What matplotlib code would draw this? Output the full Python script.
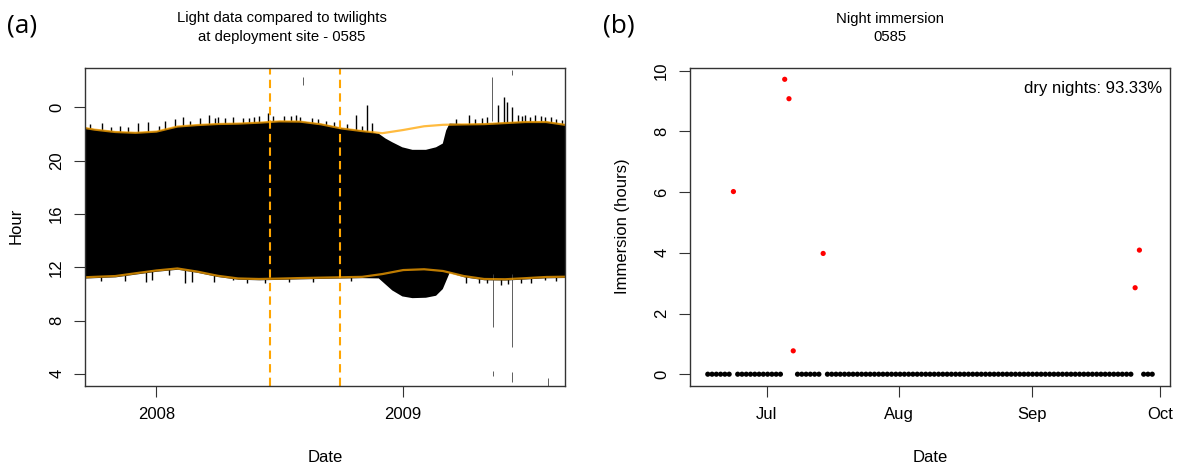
import numpy as np
import pandas as pd
import matplotlib
matplotlib.use('Agg')
import matplotlib.pyplot as plt

plt.rcParams['font.family'] = ['Liberation Sans', 'DejaVu Sans']

# ---- (a) light data vs twilights ----
twl_dates = ['2007-09-17', '2007-10-01', '2007-11-01', '2007-12-01', '2008-01-01',
             '2008-02-01', '2008-03-01', '2008-04-01', '2008-05-01', '2008-06-01',
             '2008-07-01', '2008-08-01', '2008-09-01', '2008-10-01', '2008-11-01',
             '2008-12-01', '2009-01-01', '2009-02-01', '2009-03-01', '2009-04-01',
             '2009-05-01', '2009-06-01', '2009-07-01', '2009-08-01', '2009-08-29']
twl_upper = [22.45, 22.33, 22.15, 22.09, 22.18, 22.56, 22.67, 22.75, 22.78, 22.85,
             22.95, 22.93, 22.73, 22.42, 22.22, 22.06, 22.30, 22.58, 22.69, 22.72,
             22.74, 22.82, 22.90, 22.90, 22.69]
twl_lower = [11.25, 11.28, 11.34, 11.55, 11.76, 11.91, 11.68, 11.36, 11.16, 11.12,
             11.15, 11.19, 11.22, 11.25, 11.28, 11.49, 11.79, 11.85, 11.72, 11.34,
             11.12, 11.10, 11.18, 11.27, 11.29]

# dark period recorded by the logger (edges of the black band)
band_dates = ['2007-09-17', '2007-10-01', '2007-11-01', '2007-12-01', '2008-01-01',
              '2008-02-01', '2008-03-01', '2008-04-01', '2008-05-01', '2008-06-01',
              '2008-07-01', '2008-08-01', '2008-09-01', '2008-10-01', '2008-11-01',
              '2008-11-25', '2008-12-05', '2008-12-15', '2008-12-30', '2009-01-14',
              '2009-02-03', '2009-02-18', '2009-02-28', '2009-03-05', '2009-03-10',
              '2009-04-01', '2009-05-01', '2009-06-01', '2009-07-01', '2009-08-01',
              '2009-08-29']
band_top = [22.52, 22.40, 22.22, 22.16, 22.25, 22.62, 22.74, 22.82, 22.85, 22.92,
            23.02, 23.00, 22.80, 22.49, 22.29, 22.06, 21.70, 21.42, 21.04, 20.85,
            20.85, 21.04, 21.32, 22.30, 22.82, 22.78, 22.82, 22.90, 22.97, 22.97,
            22.76]
band_bottom = [11.19, 11.22, 11.28, 11.49, 11.70, 11.85, 11.62, 11.30, 11.10, 11.06,
               11.09, 11.13, 11.16, 11.19, 11.22, 11.20, 10.75, 10.30, 9.85, 9.72,
               9.75, 9.90, 10.40, 11.00, 11.60, 11.28, 11.06, 11.04, 11.12, 11.21,
               11.23]

top_spike_dates = ['2007-09-25', '2007-10-12', '2007-10-25', '2007-11-08', '2007-11-20',
                   '2007-12-05', '2007-12-20', '2008-01-05', '2008-01-13', '2008-01-28',
                   '2008-02-09', '2008-02-20', '2008-03-06', '2008-03-19', '2008-03-28',
                   '2008-04-02', '2008-04-12', '2008-04-23', '2008-05-08', '2008-05-18',
                   '2008-05-25', '2008-06-01', '2008-06-14', '2008-06-22', '2008-07-08',
                   '2008-07-18', '2008-07-26', '2008-08-01', '2008-08-19', '2008-08-28',
                   '2008-09-08', '2008-09-20', '2008-10-10', '2008-10-23', '2008-11-01',
                   '2008-11-08', '2008-11-16', '2009-03-20', '2009-04-08', '2009-04-18',
                   '2009-04-28', '2009-05-06', '2009-05-22', '2009-05-30',
                   '2009-06-04', '2009-06-11', '2009-06-20', '2009-06-26', '2009-07-01',
                   '2009-07-08', '2009-07-16', '2009-07-24', '2009-07-31', '2009-08-08',
                   '2009-08-16', '2009-08-24']
top_spike_hours = [22.75, 22.80, 22.55, 22.60, 22.50, 22.80, 22.92, 22.60, 23.00, 23.10,
                   23.25, 23.00, 23.17, 23.42, 23.20, 23.25, 23.20, 23.30, 23.17, 23.20,
                   23.25, 23.35, 23.60, 23.35, 23.35, 23.35, 23.42, 23.30, 23.17, 23.10,
                   23.00, 22.90, 22.75, 23.42, 22.60, 24.17, 22.80, 23.10, 23.42, 23.15,
                   23.20, 23.30, 24.17, 24.80, 24.42, 24.05, 23.40, 23.35, 23.42,
                   23.30, 23.42, 23.35, 23.30, 23.25, 23.15, 23.05]

bottom_spike_dates = ['2007-10-10', '2007-11-15', '2007-12-16', '2007-12-26', '2008-01-20',
                      '2008-02-13', '2008-02-23', '2008-03-27', '2008-04-23', '2008-05-15',
                      '2008-06-10', '2008-07-15', '2008-08-20', '2008-10-15', '2009-04-04',
                      '2009-04-23', '2009-05-05', '2009-05-26', '2009-06-05',
                      '2009-06-24', '2009-07-10', '2009-07-31', '2009-08-15']
bottom_spike_hours = [10.95, 11.00, 10.92, 11.04, 11.45, 10.82, 10.90, 10.92, 11.04, 10.85,
                      10.85, 10.90, 10.90, 10.95, 10.80, 10.82, 10.80, 10.67, 10.75,
                      10.82, 10.85, 11.04, 10.95]

# thin, faint isolated readings
stray_dates = ['2008-08-06', '2009-06-11', '2009-05-13', '2009-05-14', '2009-06-12',
               '2009-05-14', '2009-06-11', '2009-08-04']
stray_lo = [25.67, 26.43, 23.00, 7.54, 6.04, 3.85, 3.40, 3.10]
stray_hi = [26.30, 26.80, 26.30, 11.50, 11.50, 4.20, 4.15, 3.70]

deploy_start = '2008-06-17'
deploy_end = '2008-09-29'

hour_ticks = [4, 8, 12, 16, 20, 24]
hour_labels = ['4', '8', '12', '16', '20', '0']

# ---- (b) night immersion ----
nights_start = '2008-06-17 05:00'
immersion = [
    0, 0, 0, 0, 0, 0, 6.02, 0, 0, 0, 0, 0, 0, 0, 0,
    0, 0, 0, 9.72, 9.08, 0.77, 0, 0, 0, 0, 0, 0, 3.98, 0, 0,
    0, 0, 0, 0, 0, 0, 0, 0, 0, 0, 0, 0, 0, 0, 0,
    0, 0, 0, 0, 0, 0, 0, 0, 0, 0, 0, 0, 0, 0, 0,
    0, 0, 0, 0, 0, 0, 0, 0, 0, 0, 0, 0, 0, 0, 0,
    0, 0, 0, 0, 0, 0, 0, 0, 0, 0, 0, 0, 0, 0, 0,
    0, 0, 0, 0, 0, 0, 0, 0, 0, 0, 2.85, 4.09, 0, 0, 0,
]
month_ticks = ['2008-07-01', '2008-08-01', '2008-09-01', '2008-10-01']
month_labels = ['Jul', 'Aug', 'Sep', 'Oct']

W, H = 1179, 470
fig = plt.figure(figsize=(W / 100, H / 100), dpi=100)

def px_box(x0, x1, y0, y1):
    return [x0 / W, 1 - y1 / H, (x1 - x0) / W, (y1 - y0) / H]

frame_col = '#333333'

def style(ax):
    for s in ax.spines.values():
        s.set_color(frame_col)
        s.set_linewidth(1.0)
    ax.tick_params(length=8, width=0.8, color=frame_col, labelsize=12, pad=7)

# Panel a
ax1 = fig.add_axes(px_box(85, 565, 67.5, 386))
d_band = pd.to_datetime(band_dates)
ax1.fill_between(d_band, band_bottom, band_top, color='black', lw=0)
ax1.vlines(pd.to_datetime(top_spike_dates), 21.9, top_spike_hours, color='black', lw=1.0)
ax1.vlines(pd.to_datetime(bottom_spike_dates), bottom_spike_hours, 12.0, color='black', lw=1.0)
ax1.vlines(pd.to_datetime(stray_dates), stray_lo, stray_hi, color='#444444', lw=0.6)
d_twl = pd.to_datetime(twl_dates)
ax1.plot(d_twl, twl_upper, color='orange', alpha=0.75, lw=1.6)
ax1.plot(d_twl, twl_lower, color='orange', alpha=0.75, lw=1.6)
for d in [deploy_start, deploy_end]:
    ax1.axvline(pd.Timestamp(d), color='orange', lw=1.5, dashes=(4, 2.5))
ax1.set_xlim(pd.Timestamp(twl_dates[0]), pd.Timestamp(twl_dates[-1]))
ax1.set_ylim(3.09, 26.99)
ax1.set_yticks(hour_ticks)
ax1.set_yticklabels(hour_labels, rotation=90, va='center')
ax1.set_xticks(pd.to_datetime(['2008-01-01', '2009-01-01']))
ax1.set_xticklabels(['2008', '2009'])
style(ax1)

# Panel b
ax2 = fig.add_axes(px_box(690, 1170, 67.5, 386))
nights = pd.date_range(nights_start, periods=len(immersion), freq='D')
imm = np.array(immersion)
cols = np.where(imm > 0, 'red', 'black')
ax2.scatter(nights, imm, c=cols, s=14, lw=0)
ax2.margins(x=0.04, y=0.04)
ax2.set_yticks([0, 2, 4, 6, 8, 10])
ax2.set_yticklabels(['0', '2', '4', '6', '8', '10'], rotation=90, va='center')
ax2.set_xticks(pd.to_datetime(month_ticks))
ax2.set_xticklabels(month_labels)
dry = 100 * np.mean(imm == 0)
ax2.text(0.984, 0.934, f'dry nights: {dry:.2f}%', transform=ax2.transAxes,
         ha='right', va='center', fontsize=12)
style(ax2)

# titles and labels
fig.text(282 / W, 1 - 18 / H, 'Light data compared to twilights', ha='center', va='center', fontsize=10.7)
fig.text(282 / W, 1 - 37 / H, 'at deployment site - 0585', ha='center', va='center', fontsize=10.7)
fig.text(890 / W, 1 - 19 / H, 'Night immersion', ha='center', va='center', fontsize=10.7)
fig.text(890 / W, 1 - 37 / H, '0585', ha='center', va='center', fontsize=10.7)
fig.text(325 / W, 1 - 458 / H, 'Date', ha='center', va='center', fontsize=12)
fig.text(930 / W, 1 - 458 / H, 'Date', ha='center', va='center', fontsize=12)
fig.text(16 / W, 1 - 226 / H, 'Hour', ha='center', va='center', rotation=90, fontsize=12)
fig.text(623 / W, 1 - 226 / H, 'Immersion (hours)', ha='center', va='center', rotation=90, fontsize=12)
fig.text(22 / W, 1 - 26 / H, '(a)', ha='center', va='center', fontsize=19, family='Open Sans')
fig.text(619 / W, 1 - 26 / H, '(b)', ha='center', va='center', fontsize=19, family='Open Sans')

fig.savefig('out.png', dpi=100)
